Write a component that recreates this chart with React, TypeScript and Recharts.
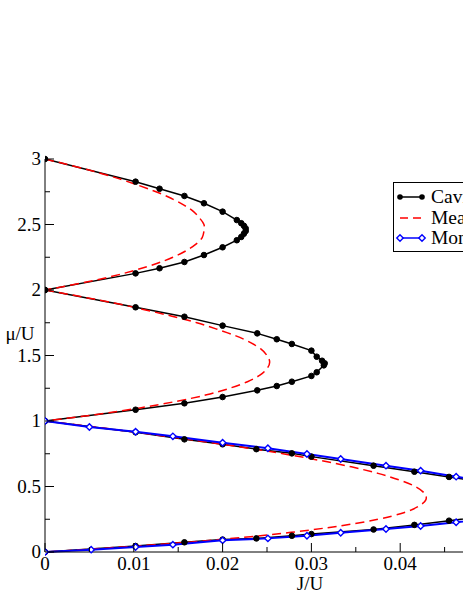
import React from "react";
import { LineChart, Line, XAxis, YAxis } from "recharts";

// x = J/U, y = mu/U
const xTicks = [0, 0.005, 0.01, 0.015, 0.02, 0.025, 0.03, 0.035, 0.04, 0.045, 0.05];
const xTickLabels = ["0", "", "0.01", "", "0.02", "", "0.03", "", "0.04", "", "0.05"];
const yTicks = [0, 0.25, 0.5, 0.75, 1, 1.25, 1.5, 1.75, 2, 2.25, 2.5, 2.75, 3];
const yTickLabels = ["0", "", "0.5", "", "1", "", "1.5", "", "2", "", "2.5", "", "3"];

const seriesNames = ["Cavity method", "Mean field", "Monte Carlo"];

// cavity method, one lobe at a time (out along the upper edge, back along the lower one)
const cavityLobe3 = [
  { J: 0, mu: 3 }, { J: 0.0102, mu: 2.827 }, { J: 0.0129, mu: 2.773 }, { J: 0.0157, mu: 2.718 },
  { J: 0.0179, mu: 2.662 }, { J: 0.02, mu: 2.598 }, { J: 0.0216, mu: 2.534 }, { J: 0.0221, mu: 2.51 },
  { J: 0.0224, mu: 2.49 }, { J: 0.0226, mu: 2.47 }, { J: 0.0226, mu: 2.45 }, { J: 0.0224, mu: 2.43 },
  { J: 0.0221, mu: 2.405 }, { J: 0.0216, mu: 2.38 }, { J: 0.02, mu: 2.326 }, { J: 0.0179, mu: 2.267 },
  { J: 0.0157, mu: 2.214 }, { J: 0.0129, mu: 2.166 }, { J: 0.0102, mu: 2.127 }, { J: 0, mu: 2 },
];
const cavityLobe2 = [
  { J: 0, mu: 2 }, { J: 0.0102, mu: 1.868 }, { J: 0.0157, mu: 1.796 }, { J: 0.02, mu: 1.728 },
  { J: 0.0239, mu: 1.669 }, { J: 0.0261, mu: 1.624 }, { J: 0.0278, mu: 1.588 }, { J: 0.03, mu: 1.537 },
  { J: 0.0306, mu: 1.491 }, { J: 0.0312, mu: 1.46 }, { J: 0.0315, mu: 1.44 }, { J: 0.0314, mu: 1.425 },
  { J: 0.0306, mu: 1.372 }, { J: 0.03, mu: 1.344 }, { J: 0.0278, mu: 1.3 }, { J: 0.0261, mu: 1.267 },
  { J: 0.0239, mu: 1.234 }, { J: 0.02, mu: 1.183 }, { J: 0.0157, mu: 1.135 }, { J: 0.0102, mu: 1.086 },
  { J: 0, mu: 1 },
];
const cavityLobe1 = [
  { J: 0, mu: 1 }, { J: 0.0102, mu: 0.914 }, { J: 0.0157, mu: 0.86 }, { J: 0.02, mu: 0.822 },
  { J: 0.0238, mu: 0.785 }, { J: 0.0278, mu: 0.753 }, { J: 0.03, mu: 0.728 }, { J: 0.037, mu: 0.659 },
  { J: 0.0416, mu: 0.613 }, { J: 0.0455, mu: 0.573 }, { J: 0.05, mu: 0.527 },
  { J: 0.05, mu: 0.275 }, { J: 0.0455, mu: 0.239 }, { J: 0.0416, mu: 0.207 }, { J: 0.037, mu: 0.172 },
  { J: 0.03, mu: 0.137 }, { J: 0.0278, mu: 0.124 }, { J: 0.0238, mu: 0.104 }, { J: 0.02, mu: 0.095 },
  { J: 0.0157, mu: 0.074 }, { J: 0.0102, mu: 0.046 }, { J: 0, mu: 0 },
];

// mean field
const meanFieldLobe3 = [
  { J: 0, mu: 3 }, { J: 0.003, mu: 2.95 }, { J: 0.0058, mu: 2.9 }, { J: 0.0083, mu: 2.85 },
  { J: 0.0105, mu: 2.8 }, { J: 0.0125, mu: 2.75 }, { J: 0.0142, mu: 2.7 }, { J: 0.0156, mu: 2.65 },
  { J: 0.0167, mu: 2.6 }, { J: 0.0174, mu: 2.55 }, { J: 0.0179, mu: 2.5 }, { J: 0.0179, mu: 2.45 },
  { J: 0.0177, mu: 2.4 }, { J: 0.017, mu: 2.35 }, { J: 0.0159, mu: 2.3 }, { J: 0.0144, mu: 2.25 },
  { J: 0.0125, mu: 2.2 }, { J: 0.0101, mu: 2.15 }, { J: 0.0073, mu: 2.1 }, { J: 0.0039, mu: 2.05 },
  { J: 0, mu: 2 },
];
const meanFieldLobe2 = [
  { J: 0, mu: 2 }, { J: 0.004, mu: 1.95 }, { J: 0.0078, mu: 1.9 }, { J: 0.0112, mu: 1.85 },
  { J: 0.0143, mu: 1.8 }, { J: 0.0171, mu: 1.75 }, { J: 0.0194, mu: 1.7 }, { J: 0.0215, mu: 1.65 },
  { J: 0.0231, mu: 1.6 }, { J: 0.0243, mu: 1.55 }, { J: 0.025, mu: 1.5 }, { J: 0.0253, mu: 1.45 },
  { J: 0.025, mu: 1.4 }, { J: 0.0242, mu: 1.35 }, { J: 0.0228, mu: 1.3 }, { J: 0.0208, mu: 1.25 },
  { J: 0.0182, mu: 1.2 }, { J: 0.0148, mu: 1.15 }, { J: 0.0107, mu: 1.1 }, { J: 0.0058, mu: 1.05 },
  { J: 0, mu: 1 },
];
const meanFieldLobe1 = [
  { J: 0, mu: 1 }, { J: 0.0061, mu: 0.95 }, { J: 0.0118, mu: 0.9 }, { J: 0.0172, mu: 0.85 },
  { J: 0.0222, mu: 0.8 }, { J: 0.0268, mu: 0.75 }, { J: 0.0309, mu: 0.7 }, { J: 0.0345, mu: 0.65 },
  { J: 0.0375, mu: 0.6 }, { J: 0.0399, mu: 0.55 }, { J: 0.0417, mu: 0.5 }, { J: 0.0427, mu: 0.45 },
  { J: 0.0429, mu: 0.4 }, { J: 0.0421, mu: 0.35 }, { J: 0.0404, mu: 0.3 }, { J: 0.0375, mu: 0.25 },
  { J: 0.0333, mu: 0.2 }, { J: 0.0277, mu: 0.15 }, { J: 0.0205, mu: 0.1 }, { J: 0.0113, mu: 0.05 },
  { J: 0, mu: 0 },
];

// Monte Carlo, first lobe only
const monteCarloUpper = [
  { J: 0, mu: 1 }, { J: 0.005, mu: 0.954 }, { J: 0.0102, mu: 0.918 }, { J: 0.0144, mu: 0.883 },
  { J: 0.02, mu: 0.834 }, { J: 0.0251, mu: 0.792 }, { J: 0.0295, mu: 0.748 }, { J: 0.0333, mu: 0.71 },
  { J: 0.0384, mu: 0.659 }, { J: 0.0423, mu: 0.621 }, { J: 0.0463, mu: 0.575 }, { J: 0.05, mu: 0.535 },
];
const monteCarloLower = [
  { J: 0, mu: 0 }, { J: 0.0052, mu: 0.018 }, { J: 0.0102, mu: 0.038 }, { J: 0.0144, mu: 0.056 },
  { J: 0.02, mu: 0.089 }, { J: 0.0251, mu: 0.104 }, { J: 0.0295, mu: 0.124 }, { J: 0.0333, mu: 0.147 },
  { J: 0.0384, mu: 0.176 }, { J: 0.0423, mu: 0.198 }, { J: 0.0463, mu: 0.227 }, { J: 0.05, mu: 0.255 },
];

const FONT = "'Liberation Serif', 'DejaVu Serif', serif";
const textStyle = { fontFamily: FONT };

function BottomTick(props: any) {
  const { x, y, index } = props;
  const label = xTickLabels[index];
  const len = label ? 9 : 5;
  return (
    <g>
      <line x1={x} y1={y} x2={x} y2={y - len} stroke="#000" />
      {label ? (
        <text x={x} y={y + 18} textAnchor="middle" fontSize={19} style={textStyle} fill="#000">
          {label}
        </text>
      ) : null}
    </g>
  );
}

function TopTick(props: any) {
  const { x, y, index } = props;
  const len = xTickLabels[index] ? 8 : 5;
  return <line x1={x} y1={y} x2={x} y2={y + len} stroke="#000" />;
}

function LeftTick(props: any) {
  const { x, y, index } = props;
  const label = yTickLabels[index];
  const len = label ? 9 : 5;
  return (
    <g>
      <line x1={x} y1={y} x2={x + len} y2={y} stroke="#000" />
      {label ? (
        <text x={x - 4} y={y + 6} textAnchor="end" fontSize={19} style={textStyle} fill="#000">
          {label}
        </text>
      ) : null}
    </g>
  );
}

function Diamond(props: any) {
  const { cx, cy, index } = props;
  if (cx == null || cy == null) return <g key={index} />;
  const s = 3.2;
  return (
    <path
      key={index}
      d={`M${cx},${cy - s}L${cx + s},${cy}L${cx},${cy + s}L${cx - s},${cy}Z`}
      fill="#fff"
      stroke="#0000ff"
      strokeWidth={1.4}
    />
  );
}

function LegendBox() {
  const rows = [197, 218, 238];
  return (
    <svg width={463} height={599} style={{ position: "absolute", left: 0, top: 0, pointerEvents: "none" }}>
      <rect x={393.5} y={182.5} width={160} height={69} fill="#fff" stroke="#000" />
      <line x1={400} y1={rows[0]} x2={422} y2={rows[0]} stroke="#000" strokeWidth={1.5} />
      <circle cx={400} cy={rows[0]} r={2.8} fill="#000" />
      <circle cx={422} cy={rows[0]} r={2.8} fill="#000" />
      <line x1={400} y1={rows[1]} x2={422} y2={rows[1]} stroke="#ff0000" strokeWidth={1.5} strokeDasharray="8 5" />
      <line x1={400} y1={rows[2]} x2={422} y2={rows[2]} stroke="#0000ff" strokeWidth={1.5} />
      <Diamond cx={400} cy={rows[2]} index={0} />
      <Diamond cx={422} cy={rows[2]} index={1} />
      {seriesNames.map((name, i) => (
        <text key={name} x={431} y={rows[i] + 6} fontSize={19.5} style={textStyle} fill="#000">
          {name}
        </text>
      ))}
    </svg>
  );
}

export default function App() {
  return (
    <div
      style={{
        position: "absolute",
        left: 0,
        top: 0,
        width: 463,
        height: 599,
        overflow: "hidden",
        background: "#fff",
      }}
    >
      <LineChart width={520} height={599} margin={{ top: 159, right: 31, left: 0, bottom: 0 }}>
        <XAxis
          dataKey="J"
          type="number"
          domain={[0, 0.05]}
          ticks={xTicks}
          interval={0}
          allowDataOverflow
          height={47}
          tickSize={0}
          tickMargin={0}
          tickLine={false}
          axisLine={{ stroke: "#000" }}
          tick={(p: any) => <BottomTick {...p} />}
          label={() => (
            <text x={310} y={590} textAnchor="middle" fontSize={19} style={textStyle} fill="#000">
              J/U
            </text>
          )}
        />
        <XAxis
          xAxisId="top"
          orientation="top"
          dataKey="J"
          type="number"
          domain={[0, 0.05]}
          ticks={xTicks}
          interval={0}
          height={0}
          tickSize={0}
          tickMargin={0}
          tickLine={false}
          axisLine={{ stroke: "#666" }}
          tick={(p: any) => <TopTick {...p} />}
        />
        <YAxis
          dataKey="mu"
          type="number"
          domain={[0, 3]}
          ticks={yTicks}
          interval={0}
          width={45}
          tickSize={0}
          tickMargin={0}
          tickLine={false}
          axisLine={{ stroke: "#000" }}
          tick={(p: any) => <LeftTick {...p} />}
          label={() => (
            <text x={20} y={340} textAnchor="middle" fontSize={19} style={textStyle} fill="#000">
              μ/U
            </text>
          )}
        />

        <Line data={cavityLobe3} dataKey="mu" type="linear" stroke="#000" strokeWidth={1.5} dot={{ r: 2.8, fill: "#000", stroke: "#000", strokeWidth: 1 }} isAnimationActive={false} />
        <Line data={cavityLobe2} dataKey="mu" type="linear" stroke="#000" strokeWidth={1.5} dot={{ r: 2.8, fill: "#000", stroke: "#000", strokeWidth: 1 }} isAnimationActive={false} />
        <Line data={cavityLobe1} dataKey="mu" type="linear" stroke="#000" strokeWidth={1.5} dot={{ r: 2.8, fill: "#000", stroke: "#000", strokeWidth: 1 }} isAnimationActive={false} />

        <Line data={meanFieldLobe3} dataKey="mu" type="natural" stroke="#ff0000" strokeWidth={1.5} strokeDasharray="9 5" dot={false} isAnimationActive={false} />
        <Line data={meanFieldLobe2} dataKey="mu" type="natural" stroke="#ff0000" strokeWidth={1.5} strokeDasharray="9 5" dot={false} isAnimationActive={false} />
        <Line data={meanFieldLobe1} dataKey="mu" type="natural" stroke="#ff0000" strokeWidth={1.5} strokeDasharray="9 5" dot={false} isAnimationActive={false} />

        <Line data={monteCarloUpper} dataKey="mu" type="linear" stroke="#0000ff" strokeWidth={2} dot={(p: any) => <Diamond {...p} key={p.index} />} isAnimationActive={false} />
        <Line data={monteCarloLower} dataKey="mu" type="linear" stroke="#0000ff" strokeWidth={2} dot={(p: any) => <Diamond {...p} key={p.index} />} isAnimationActive={false} />
      </LineChart>
      <LegendBox />
    </div>
  );
}
